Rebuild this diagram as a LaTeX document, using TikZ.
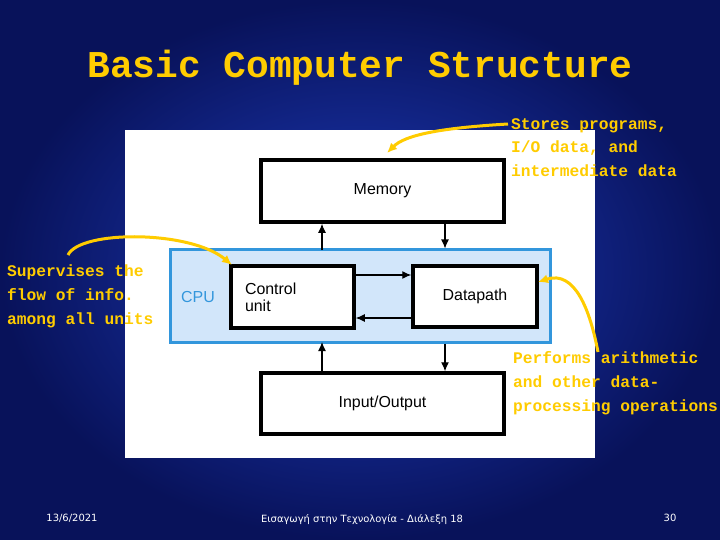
\documentclass[tikz,border=0pt]{standalone}
\usepackage{fontspec}
\setmainfont{DejaVu Sans}
\newfontfamily\notefont{Liberation Mono}
\newfontfamily\boxfont{Liberation Sans}
\usetikzlibrary{positioning,arrows.meta}
\definecolor{bgin}{RGB}{30,60,190}
\definecolor{bgout}{RGB}{8,18,90}
\definecolor{note}{RGB}{255,204,0}
\definecolor{cpufill}{RGB}{210,230,250}
\definecolor{cpuline}{RGB}{50,150,220}
\tikzset{
  blk/.style={draw,line width=3.5bp,fill=white,font=\boxfont\fontsize{16}{17}\selectfont},
  lnk/.style={-{Latex[length=9bp,width=8bp]},line width=1.2bp},
  callout/.style={note,line width=3bp,-{Latex[length=10bp,width=9bp]}},
  notetxt/.style={text=note,font=\notefont\bfseries\fontsize{16.3}{24}\selectfont,align=left,anchor=north west,inner sep=0pt}
}
\begin{document}
\begin{tikzpicture}[x=1bp,y=-1bp]
\useasboundingbox (0,0) rectangle (720,540);
\shade[inner color=bgin,outer color=bgout] (0,0) rectangle (720,540);
\fill[white] (125,130) rectangle (595,458);
\node[font=\notefont\bfseries\fontsize{38}{40}\selectfont,text=note] (title) at (360,68) {Basic Computer Structure};
% boxes
\node[draw=cpuline,fill=cpufill,line width=3bp,minimum width=380bp,minimum height=92bp] (cpu) at (360,296) {};
\node[text=cpuline,font=\boxfont\fontsize{16}{17}\selectfont] (cpulbl) at (198,297) {CPU};
\node[blk,minimum width=243bp,minimum height=62bp] (mem) at (382.5,191) {Memory};
\node[blk,minimum width=123bp,minimum height=62bp,align=left,text width=95bp] (cu) at (292.5,297) {Control\\unit};
\node[blk,minimum width=124bp,minimum height=61bp] (dp) at (475,296.5) {Datapath};
\node[blk,minimum width=243bp,minimum height=61bp] (io) at (382.5,403.5) {Input/Output};
% connectors
\coordinate (cputop) at (322,250);
\coordinate (cpubot) at (322,342);
\draw[lnk] (cputop) -- (cputop |- mem.south);
\draw[lnk] (mem.south -| dp.center) ++(-30,0) coordinate (m1) (m1) -- (m1 |- cpu.north);
\draw[lnk] (cu.east |- 0,275) -- (dp.west |- 0,275);
\draw[lnk] (dp.west |- 0,318) -- (cu.east |- 0,318);
\draw[lnk] (io.north -| cputop) -- (cpubot);
\draw[lnk] (cpu.south -| m1) -- (io.north -| m1);
% notes
\node[notetxt] (n1) at (511,118) {Stores programs,\\I/O data, and\\intermediate data};
\node[notetxt] (n2) at (7,265) {Supervises the\\flow of info.\\among all units};
\node[notetxt] (n3) at (513,351) {Performs arithmetic\\and other data-\\processing operations};
\coordinate (c1) at (508,124);
\coordinate (c2) at (68,255);
\coordinate (c3) at (598,352);
\draw[callout] (c1) .. controls (440,128) and (405,135) .. (387,153);
\draw[callout] (c2) .. controls (80,230) and (190,230) .. (232,265);
\draw[callout] (c3) .. controls (590,310) and (575,270) .. (538,282);
% footer
\node[white,font=\fontsize{10}{12}\selectfont] (date) at (72,518) {13/6/2021};
\node[white,font=\fontsize{10}{12}\selectfont] (course) at (362,520) {Εισαγωγή στην Τεχνολογία - Διάλεξη 18};
\node[white,font=\fontsize{10}{12}\selectfont] (page) at (670,518) {30};
\end{tikzpicture}
\end{document}
